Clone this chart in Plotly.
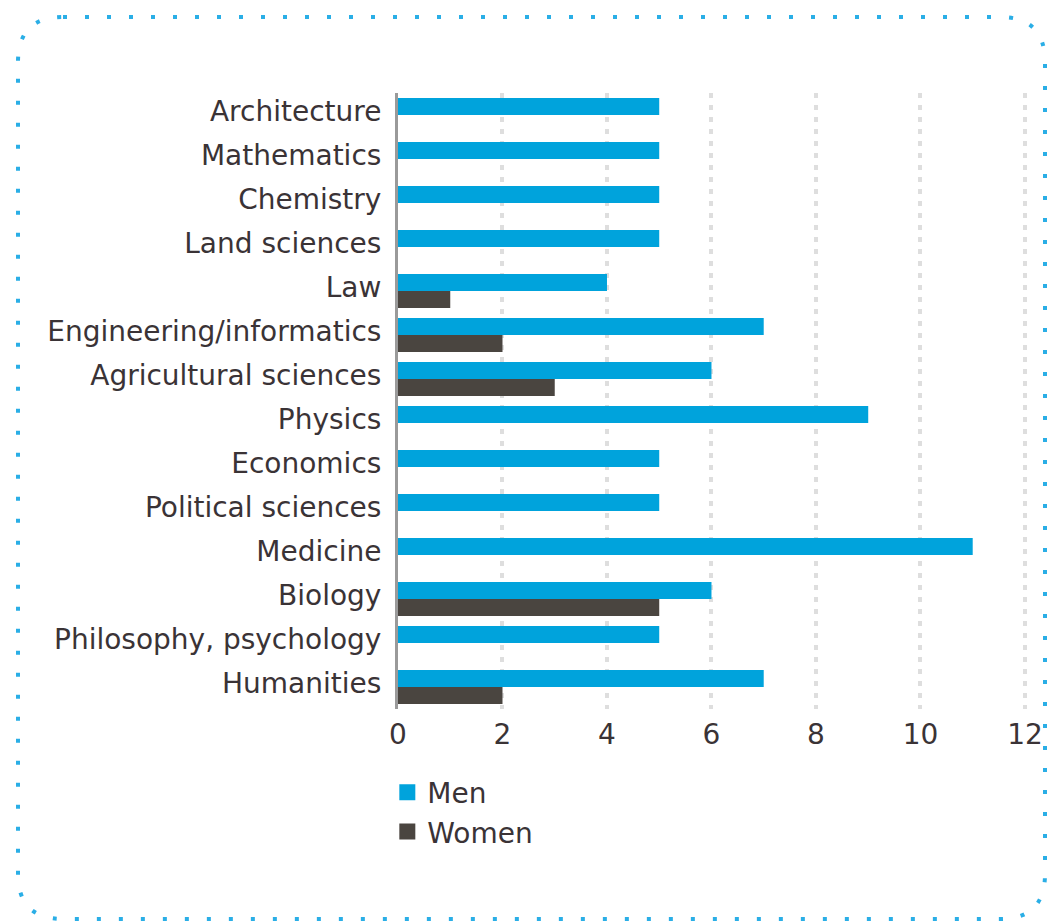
import plotly.graph_objects as go

categories = ["Architecture", "Mathematics", "Chemistry", "Land sciences", "Law",
              "Engineering/informatics", "Agricultural sciences", "Physics", "Economics",
              "Political sciences", "Medicine", "Biology", "Philosophy, psychology", "Humanities"]
men = [5, 5, 5, 5, 4, 7, 6, 9, 5, 5, 11, 6, 5, 7]
women = [0, 0, 0, 0, 1, 2, 3, 0, 0, 0, 0, 5, 0, 2]
x_ticks = [0, 2, 4, 6, 8, 10, 12]

BLUE = "#00a3dc"
DARK = "#4a4540"
TEXT = "#3a3336"
FONT = "DejaVu Sans"

W, H = 1051, 923
L, R, T, B = 398, 25, 93, 214
PW, PH = W - L - R, H - T - B

def px(x):
    return (x - L) / PW

def py(y):
    return (H - B - y) / PH

fig = go.Figure()
fig.add_trace(go.Bar(y=categories, x=men, orientation="h", name="Men",
                     marker=dict(color=BLUE, line=dict(width=0)), showlegend=False))
fig.add_trace(go.Bar(y=categories, x=women, orientation="h", name="Women",
                     marker=dict(color=DARK, line=dict(width=0)), showlegend=False))
# legend proxies
fig.add_trace(go.Scatter(x=[None], y=[None], mode="markers", name="Men",
                         marker=dict(symbol="square", size=18, color=BLUE)))
fig.add_trace(go.Scatter(x=[None], y=[None], mode="markers", name="Women",
                         marker=dict(symbol="square", size=18, color=DARK)))

# rounded dotted border
x0, x1, y0, y1, r = 18, 1045, 17, 919, 45
path = (f"M {px(x0+r)},{py(y0)} L {px(x1-r)},{py(y0)} Q {px(x1)},{py(y0)} {px(x1)},{py(y0+r)} "
        f"L {px(x1)},{py(y1-r)} Q {px(x1)},{py(y1)} {px(x1-r)},{py(y1)} "
        f"L {px(x0+r)},{py(y1)} Q {px(x0)},{py(y1)} {px(x0)},{py(y1-r)} "
        f"L {px(x0)},{py(y0+r)} Q {px(x0)},{py(y0)} {px(x0+r)},{py(y0)} Z")
fig.add_shape(type="path", path=path, xref="paper", yref="paper",
              line=dict(color="#2aaee6", width=4, dash="4px,18px"))

fig.update_layout(
    width=W, height=H,
    margin=dict(l=L, r=R, t=T, b=B, autoexpand=False),
    paper_bgcolor="white", plot_bgcolor="white",
    barmode="group", bargap=0.23, bargroupgap=0,
    font=dict(family=FONT, size=28, color=TEXT),
    xaxis=dict(range=[0, 12.02], tickvals=x_ticks, showgrid=True, gridcolor="#dedede",
               gridwidth=4, griddash="5px,7px", zeroline=False, showline=False,
               ticks="", tickfont=dict(size=28, color=TEXT), ticklabelstandoff=6),
    yaxis=dict(categoryorder="array", categoryarray=categories, autorange="reversed",
               showgrid=False, zeroline=False, showline=True, linecolor="#9a9a9a",
               linewidth=3, ticks="", tickfont=dict(size=28, color=TEXT),
               ticklabelstandoff=8, ticklabelshift=4),
    legend=dict(x=-0.017, y=-0.095, xanchor="left", yanchor="top", orientation="v",
                font=dict(size=28, color=TEXT), itemsizing="trace",
                tracegroupgap=0, bgcolor="rgba(0,0,0,0)"),
)

fig.write_html("out.html", config={"displayModeBar": False},
               post_script="document.body.style.margin='0px';document.body.style.overflow='hidden';")
